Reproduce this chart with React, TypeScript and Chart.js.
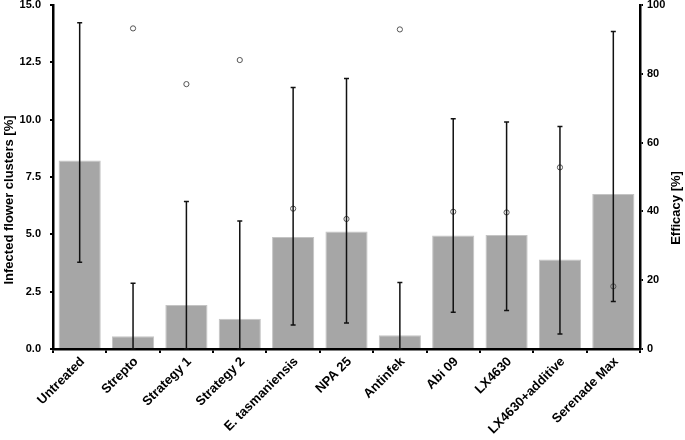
import React, { useEffect, useRef } from "react";
import { Chart, registerables } from "chart.js";

Chart.register(...registerables);

const categories = [
  "Untreated",
  "Strepto",
  "Strategy 1",
  "Strategy 2",
  "E. tasmaniensis",
  "NPA 25",
  "Antinfek",
  "Abi 09",
  "LX4630",
  "LX4630+additive",
  "Serenade Max",
];
const infected = [8.22, 0.56, 1.92, 1.32, 4.88, 5.12, 0.6, 4.95, 4.97, 3.9, 6.76];
const errLow = [3.78, 0, 0, 0, 1.05, 1.13, 0, 1.6, 1.68, 0.65, 2.07];
const errHigh = [14.23, 2.87, 6.43, 5.58, 11.4, 11.8, 2.9, 10.04, 9.9, 9.7, 13.84];
const efficacy = [null, 93.2, 77.0, 84.0, 40.8, 37.8, 92.9, 39.9, 39.7, 52.8, 18.2];
const leftTicks = [0, 2.5, 5, 7.5, 10, 12.5, 15];
const rightTicks = [0, 20, 40, 60, 80, 100];

const FONT = "'Liberation Sans', Arial, sans-serif";

const errorBarPlugin = {
  id: "errorBars",
  afterDatasetsDraw(chart: any) {
    const { ctx } = chart;
    const xs = chart.scales.x;
    const ys = chart.scales.y;
    ctx.save();
    ctx.strokeStyle = "#111";
    ctx.lineWidth = 1.5;
    categories.forEach((_, i) => {
      const px = xs.getPixelForValue(i);
      const yl = ys.getPixelForValue(errLow[i]);
      const yh = ys.getPixelForValue(errHigh[i]);
      ctx.beginPath();
      ctx.moveTo(px, yl);
      ctx.lineTo(px, yh);
      ctx.moveTo(px - 2.5, yl);
      ctx.lineTo(px + 2.5, yl);
      ctx.moveTo(px - 2.5, yh);
      ctx.lineTo(px + 2.5, yh);
      ctx.stroke();
    });
    ctx.restore();
  },
};

const titlePlugin = {
  id: "axisTitles",
  afterDraw(chart: any) {
    const { ctx, chartArea } = chart;
    const mid = (chartArea.top + chartArea.bottom) / 2;
    ctx.save();
    ctx.fillStyle = "#000";
    ctx.font = `bold 13px ${FONT}`;
    ctx.textAlign = "center";
    ctx.textBaseline = "middle";
    ctx.translate(9, mid + 23);
    ctx.rotate(-Math.PI / 2);
    ctx.fillText("Infected flower clusters [%]", 0, 0);
    ctx.restore();
    ctx.save();
    ctx.fillStyle = "#000";
    ctx.font = `bold 13px ${FONT}`;
    ctx.textAlign = "center";
    ctx.textBaseline = "middle";
    ctx.translate(676, mid + 31);
    ctx.rotate(-Math.PI / 2);
    ctx.fillText("Efficacy [%]", 0, 0);
    ctx.restore();
  },
};

export default function App() {
  const ref = useRef<HTMLCanvasElement | null>(null);
  useEffect(() => {
    if (!ref.current) return;
    const chart = new Chart(ref.current, {
      type: "bar",
      data: {
        labels: categories,
        datasets: [
          {
            type: "line",
            label: "Efficacy",
            data: efficacy,
            yAxisID: "y1",
            showLine: false,
            pointStyle: "circle",
            pointRadius: 2.6,
            pointBorderWidth: 1,
            pointBorderColor: "#555",
            pointBackgroundColor: "rgba(255,255,255,0)",
            order: 0,
          } as any,
          {
            type: "bar",
            label: "Infected",
            data: infected,
            yAxisID: "y",
            backgroundColor: "#a6a6a6",
            borderColor: "#c4c4c4",
            borderWidth: 1,
            categoryPercentage: 1,
            barPercentage: 0.79,
            order: 1,
          },
        ],
      },
      options: {
        responsive: false,
        animation: false,
        layout: { padding: { top: 5, left: 0, right: 0, bottom: 0 } },
        plugins: {
          legend: { display: false },
          tooltip: { enabled: false },
        },
        scales: {
          x: {
            offset: true,
            grid: {
              display: true,
              offset: true,
              drawOnChartArea: false,
              drawTicks: true,
              tickLength: 4,
              color: "#000",
              lineWidth: 2,
            },
            border: { display: true, color: "#000", width: 2.5 },
            ticks: {
              color: "#000",
              font: { family: FONT, size: 13, weight: "bold" },
              minRotation: 45,
              maxRotation: 45,
              autoSkip: false,
              padding: 1,
              labelOffset: 3,
            },
            afterFit(scale: any) {
              scale.height = 91;
              scale.paddingLeft = 0;
              scale.paddingRight = 0;
            },
          },
          y: {
            position: "left",
            min: 0,
            max: 15,
            afterBuildTicks(scale: any) {
              scale.ticks = leftTicks.map((v) => ({ value: v }));
            },
            grid: {
              display: true,
              drawOnChartArea: false,
              drawTicks: true,
              tickLength: 3,
              color: "#000",
              lineWidth: 2,
            },
            border: { display: true, color: "#000", width: 2.5 },
            ticks: {
              color: "#000",
              font: { family: FONT, size: 11, weight: "bold" },
              padding: 9,
              callback: (v: any) => Number(v).toFixed(1),
            },
            afterFit(scale: any) {
              scale.width = 53;
              scale.paddingTop = 0;
              scale.paddingBottom = 0;
            },
          },
          y1: {
            position: "right",
            min: 0,
            max: 100,
            afterBuildTicks(scale: any) {
              scale.ticks = rightTicks.map((v) => ({ value: v }));
            },
            grid: {
              display: true,
              drawOnChartArea: false,
              drawTicks: true,
              tickLength: 3,
              color: "#000",
              lineWidth: 2,
            },
            border: { display: true, color: "#000", width: 2.5 },
            ticks: {
              color: "#000",
              font: { family: FONT, size: 11, weight: "bold" },
              padding: 4,
              callback: (v: any) => String(v),
            },
            afterFit(scale: any) {
              scale.width = 45;
              scale.paddingTop = 0;
              scale.paddingBottom = 0;
            },
          },
        },
      },
      plugins: [errorBarPlugin, titlePlugin],
    });
    return () => chart.destroy();
  }, []);
  return (
    <div style={{ position: "absolute", left: 0, top: 0, width: 685, height: 440 }}>
      <canvas ref={ref} width={685} height={440} />
    </div>
  );
}
